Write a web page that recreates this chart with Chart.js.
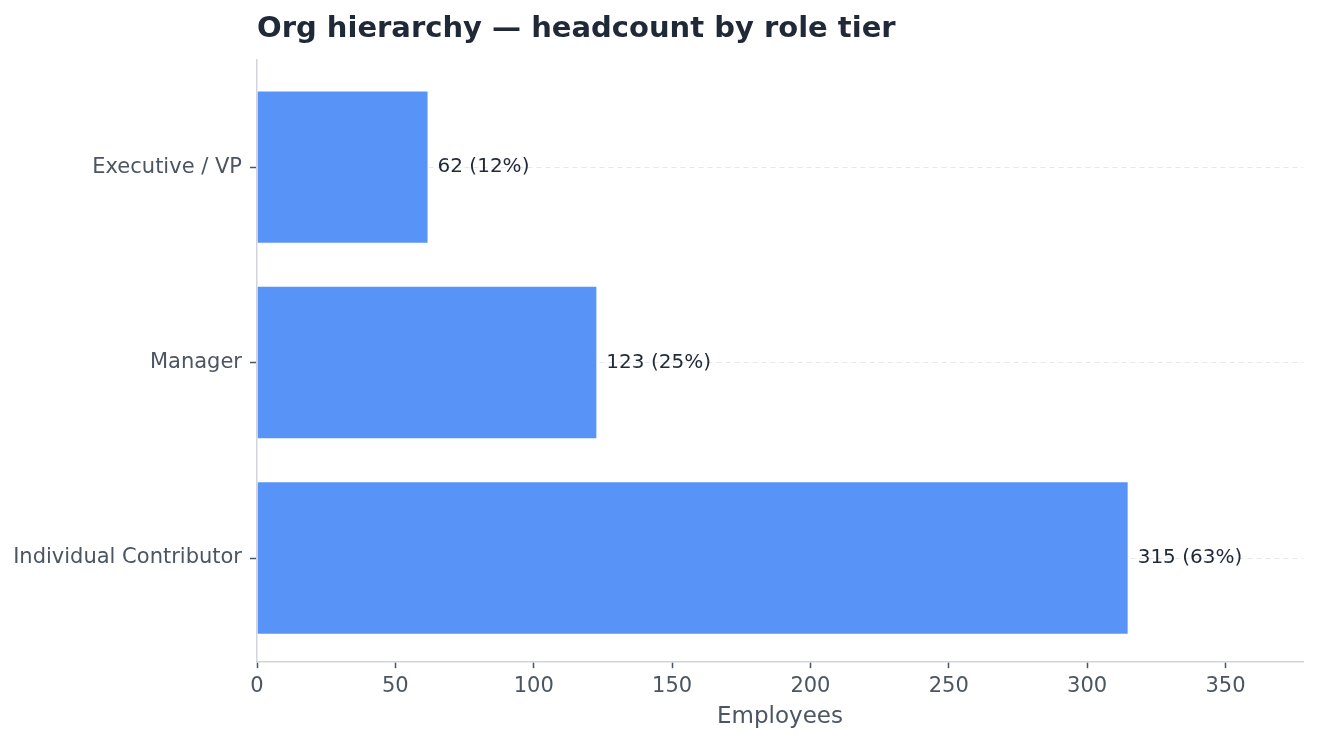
<!DOCTYPE html>
<html>
<head>
<meta charset="utf-8">
<script src="https://cdn.jsdelivr.net/npm/chart.js@4/dist/chart.umd.min.js"></script>
<style>
  html, body { margin: 0; padding: 0; background: #ffffff; }
  #wrap { width: 1317px; height: 743px; position: relative; }
</style>
</head>
<body>
<div id="wrap"><canvas id="orgChart"></canvas></div>
<script>
// role tiers, top to bottom
const tiers = ['Executive / VP', 'Manager', 'Individual Contributor'];
const headcount = [62, 123, 315];
const xTicks = [0, 50, 100, 150, 200, 250, 300, 350];

const total = headcount.reduce((a, b) => a + b, 0);

// write "n (p%)" just past the end of each bar
const barLabels = {
    id: 'barLabels',
    afterDatasetsDraw(chart) {
        const ctx = chart.ctx;
        const meta = chart.getDatasetMeta(0);
        ctx.save();
        ctx.font = '20px "DejaVu Sans"';
        ctx.fillStyle = '#1f2937';
        ctx.textAlign = 'left';
        ctx.textBaseline = 'middle';
        meta.data.forEach((bar, i) => {
            const v = headcount[i];
            const pct = Math.round(v / total * 100);
            ctx.fillText(v + ' (' + pct + '%)', bar.x + 9, bar.y);
        });
        ctx.restore();
    }
};

const ctx = document.getElementById('orgChart').getContext('2d');
const chart = new Chart(ctx, {
    type: 'bar',
    data: {
        datasets: [{
            data: headcount.map((v, i) => ({ x: v, y: i })),
            backgroundColor: '#5894f7',
            borderColor: '#ffffff',
            borderWidth: 1,
            categoryPercentage: 1,
            barPercentage: 0.785
        }]
    },
    options: {
        indexAxis: 'y',
        responsive: true,
        maintainAspectRatio: false,
        animation: false,
        layout: {
            padding: { left: 0, right: 14, top: 0, bottom: 12 }
        },
        plugins: {
            legend: { display: false },
            tooltip: { enabled: false },
            title: {
                display: true,
                text: 'Org hierarchy — headcount by role tier',
                align: 'start',
                fullSize: false,
                color: '#1f2937',
                font: { family: '"DejaVu Sans"', size: 29, weight: 'bold' },
                padding: { top: 12, bottom: 13 }
            }
        },
        scales: {
            x: {
                type: 'linear',
                min: 0,
                max: 378,
                afterBuildTicks(scale) {
                    scale.ticks = xTicks.map(v => ({ value: v }));
                },
                ticks: {
                    color: '#4b5563',
                    font: { family: '"DejaVu Sans"', size: 21 },
                    padding: 6
                },
                grid: {
                    drawOnChartArea: false,
                    drawTicks: true,
                    tickLength: 6,
                    tickColor: '#4b5563',
                    tickWidth: 1.5
                },
                border: { color: '#d1d5db', width: 1.5 },
                title: {
                    display: true,
                    text: 'Employees',
                    color: '#4b5563',
                    font: { family: '"DejaVu Sans"', size: 23 },
                    padding: { top: -2, bottom: 0 }
                }
            },
            y: {
                type: 'linear',
                reverse: true,
                offset: false,
                min: -0.549,
                max: 2.533,
                afterFit(scale) {
                    scale.width = 257;
                },
                afterBuildTicks(scale) {
                    scale.ticks = tiers.map((t, i) => ({ value: i }));
                },
                ticks: {
                    color: '#4b5563',
                    font: { family: '"DejaVu Sans"', size: 21 },
                    padding: 8,
                    callback: (value) => tiers[value] !== undefined ? tiers[value] : ''
                },
                grid: {
                    offset: false,
                    color: '#e5e7eb',
                    tickBorderDash: [],
                    tickLength: 7,
                    tickColor: '#4b5563',
                    tickWidth: 1.5
                },
                border: { color: '#d1d5db', width: 1.5, dash: [5, 4] }
            }
        }
    },
    plugins: [barLabels]
});
</script>
</body>
</html>
